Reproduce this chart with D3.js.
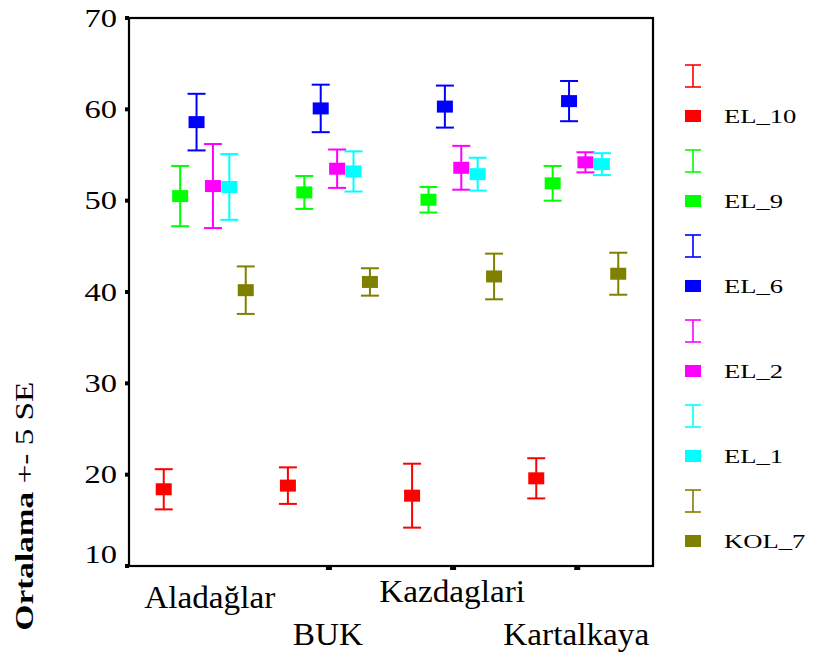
<!DOCTYPE html>
<html>
<head>
<meta charset="utf-8">
<script src="https://cdn.jsdelivr.net/npm/d3@7"></script>
<style>
  html, body { margin: 0; padding: 0; background: #fff; }
  svg { display: block; font-family: "Liberation Serif", "Times New Roman", serif; }
</style>
</head>
<body>
<svg id="chart" width="821" height="654"></svg>
<script>
// Locations on the x axis
const categories = ["Aladağlar", "BUK", "Kazdaglari", "Kartalkaya"];

// Variables plotted at each location
const seriesNames = ["EL_10", "EL_9", "EL_6", "EL_2", "EL_1", "KOL_7"];
const seriesColors = ["#ff0000", "#00ff00", "#0000ff", "#ff00ff", "#00ffff", "#808000"];

// Means per variable, one value per location
const meanEL10 = [18.4, 18.8, 17.7, 19.6];
const meanEL9  = [50.5, 50.9, 50.1, 51.9];
const meanEL6  = [58.6, 60.1, 60.3, 60.9];
const meanEL2  = [51.6, 53.5, 53.6, 54.2];
const meanEL1  = [51.5, 53.2, 52.9, 54.0];
const meanKOL7 = [40.2, 41.1, 41.7, 42.0];

// Half-length of the error bars, one value per location
const errEL10 = [2.2, 2.0, 3.5, 2.2];
const errEL9  = [3.3, 1.8, 1.4, 1.9];
const errEL6  = [3.1, 2.6, 2.3, 2.2];
const errEL2  = [4.6, 2.1, 2.4, 1.1];
const errEL1  = [3.6, 2.2, 1.8, 1.2];
const errKOL7 = [2.6, 1.5, 2.5, 2.3];

const yTicks = [10, 20, 30, 40, 50, 60, 70];
const yTitleBold = "Ortalama";
const yTitleRest = " +- 5 SE";

const means = [meanEL10, meanEL9, meanEL6, meanEL2, meanEL1, meanKOL7];
const errs  = [errEL10, errEL9, errEL6, errEL2, errEL1, errKOL7];

const svg = d3.select("#chart");
const plot = { left: 129, right: 653, top: 18, bottom: 566 };

const x = d3.scalePoint().domain(categories).range([plot.left, plot.right]).padding(0.61);
const dx = d3.scalePoint().domain(seriesNames).range([-41, 41]);
const y = d3.scaleLinear().domain([10, 70]).range([plot.bottom, plot.top]);
const color = d3.scaleOrdinal().domain(seriesNames).range(seriesColors);

// horizontally stretched text, matching the wide serif lettering
function stretchedText(g, tx, ty, sx, str, opts) {
  const t = g.append("text")
    .attr("transform", `translate(${tx},${ty}) scale(${sx},1)`)
    .attr("font-size", opts.size)
    .attr("text-anchor", opts.anchor || "start")
    .attr("fill", "#000")
    .text(str);
  if (opts.weight) t.attr("font-weight", opts.weight);
  return t;
}

// frame
svg.append("rect")
  .attr("x", plot.left).attr("y", plot.top)
  .attr("width", plot.right - plot.left).attr("height", plot.bottom - plot.top)
  .attr("fill", "none").attr("stroke", "#000").attr("stroke-width", 2.2);

// y ticks and labels
const yAxisG = svg.append("g");
yTicks.forEach(v => {
  yAxisG.append("rect")
    .attr("x", plot.left - 4).attr("y", y(v) - 2)
    .attr("width", 4).attr("height", 4).attr("fill", "#000");
  const base = v === d3.min(yTicks) ? y(v) - 3 : y(v) + 8.5;
  stretchedText(yAxisG, 117, base, 1.3, String(v), { size: 25, anchor: "end" });
});

// x ticks (the first location sits without a mark) and staggered labels
const xAxisG = svg.append("g");
categories.forEach((c, i) => {
  if (i > 0) {
    xAxisG.append("rect")
      .attr("x", x(c) - 3).attr("y", plot.bottom)
      .attr("width", 6).attr("height", 4).attr("fill", "#000");
  }
  const base = i % 2 === 0 ? 602 : 645;
  stretchedText(xAxisG, x(c) + (i === 0 ? 5 : -1), base + (i === 0 ? 6 : 0), 1.04, c, { size: 32, anchor: "middle" });
});

// y axis title
const titleG = svg.append("g").attr("transform", "translate(33,506) rotate(-90) scale(1.28,1)");
const title = titleG.append("text").attr("text-anchor", "middle").attr("font-size", 26).attr("fill", "#000");
title.append("tspan").attr("font-weight", "bold").text(yTitleBold);
title.append("tspan").text(yTitleRest);

// error bars and mean markers
const capW = 18, boxW = 16, boxH = 12;
seriesNames.forEach((s, si) => {
  const g = svg.append("g").attr("stroke", color(s)).attr("fill", color(s));
  categories.forEach((c, ci) => {
    const cx = x(c) + dx(s);
    const m = means[si][ci], e = errs[si][ci];
    g.append("line").attr("x1", cx).attr("x2", cx).attr("y1", y(m + e)).attr("y2", y(m - e)).attr("stroke-width", 2);
    g.append("line").attr("x1", cx - capW / 2).attr("x2", cx + capW / 2).attr("y1", y(m + e)).attr("y2", y(m + e)).attr("stroke-width", 2);
    g.append("line").attr("x1", cx - capW / 2).attr("x2", cx + capW / 2).attr("y1", y(m - e)).attr("y2", y(m - e)).attr("stroke-width", 2);
    g.append("rect").attr("x", cx - boxW / 2).attr("y", y(m) - boxH / 2)
      .attr("width", boxW).attr("height", boxH).attr("stroke", "none");
  });
});

// legend: an error-bar glyph and a marker for each variable
const legend = svg.append("g");
seriesNames.forEach((s, i) => {
  const cx = 693, barY = 76 + 85 * i, boxY = 116 + 85 * i;
  const col = color(s);
  legend.append("line").attr("x1", cx).attr("x2", cx).attr("y1", barY - 11).attr("y2", barY + 11).attr("stroke", col).attr("stroke-width", 1.6);
  legend.append("line").attr("x1", cx - 8).attr("x2", cx + 8).attr("y1", barY - 11).attr("y2", barY - 11).attr("stroke", col).attr("stroke-width", 1.6);
  legend.append("line").attr("x1", cx - 8).attr("x2", cx + 8).attr("y1", barY + 11).attr("y2", barY + 11).attr("stroke", col).attr("stroke-width", 1.6);
  legend.append("rect").attr("x", cx - 8).attr("y", boxY - 6).attr("width", 16).attr("height", 12).attr("fill", col);
  stretchedText(legend, 724, boxY + 6.5, 1.4, s, { size: 19 });
});
</script>
</body>
</html>
